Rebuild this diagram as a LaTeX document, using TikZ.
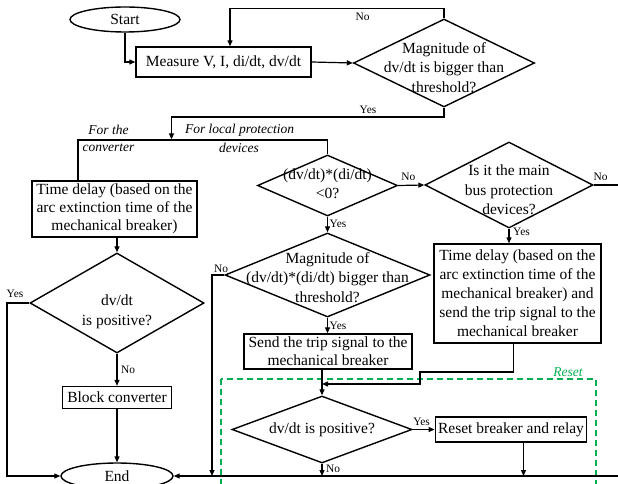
\documentclass[tikz,border=0pt]{standalone}
\usepackage{fontspec}
\setmainfont{Liberation Serif}
\usetikzlibrary{shapes.geometric,arrows.meta}
\definecolor{rgreen}{RGB}{0,176,80}
\begin{document}
\begin{tikzpicture}[x=1pt,y=-1pt,
  line width=1.2pt,
  arr/.style={-{Triangle[length=6pt,width=5pt]}},
  box/.style={draw, rectangle, line width=1.4pt, inner sep=0pt, align=center, font=\fontsize{15.5}{19}\selectfont},
  dia/.style={draw, diamond, inner sep=0pt, line width=1.4pt},
  ell/.style={draw, ellipse, inner sep=0pt, line width=1.4pt, font=\fontsize{15.5}{19}\selectfont},
  txt/.style={align=center, inner sep=0pt, font=\fontsize{15.5}{19.5}\selectfont},
  lab/.style={inner sep=0pt, font=\fontsize{11.4}{13}\selectfont},
  itl/.style={inner sep=0pt, font=\fontsize{13.5}{15}\selectfont\itshape},
]
\useasboundingbox (0,0) rectangle (618,484);

% reset region
\draw[rgreen, dash pattern=on 6pt off 4pt, line width=1.1pt] (221,379) rectangle (596,500);
\node[itl, text=rgreen] (resetlab) at (568,372) {Reset};

% top
\node[ell, minimum width=110pt, minimum height=25pt] (start) at (125,19.5) {Start};
\node[box, minimum width=175pt, minimum height=30pt] (meas) at (223.5,62) {Measure V, I, di/dt, dv/dt};
\node[dia, minimum width=181pt, minimum height=88pt] (d1) at (444,63) {};
\node[txt] (d1t) at (444,67.5) {Magnitude of\\dv/dt is bigger than\\threshold?};

\draw[arr] (start.south) |- (meas.west);
\draw[arr] (meas.east) -- (d1.west);
\coordinate (ntop) at (444,8.5);
\draw[arr] (d1.north) -- (ntop) -| ([xshift=6.5pt]meas.north);
\node[lab] (no1) at (362.6,17) {No};

\coordinate (yk) at (171.5,117);
\coordinate (ysp) at (171.5,139.4);
\draw[arr] (d1.south) |- (yk) -- (ysp);
\node[lab] (yes1) at (368,110) {Yes};

% left branch
\node[box, minimum width=165pt, minimum height=56pt, font=\fontsize{15.5}{18}\selectfont] (td1) at (114.5,209)
  {Time delay (based on the\\arc extinction time of the\\mechanical breaker)};
\coordinate (bl) at (78,140);
\coordinate (br) at (327.5,140);
\node[dia, minimum width=140pt, minimum height=61pt] (d2) at (327.5,185.5) {};
\node[txt] (d2t) at (327.5,183.5) {(dv/dt)*(di/dt)\\<0?};
\draw ([xshift=-36.5pt]td1.north) -- (bl) -- (br) -- (d2.north);

\node[itl] (l1a) at (108.5,130) {For the};
\node[itl] (l1b) at (108.5,147.5) {converter};
\node[itl] (l2a) at (239.5,130) {For local protection};
\node[itl] (l2b) at (239,147.5) {devices};

\node[dia, minimum width=174pt, minimum height=100pt] (d3) at (117,303) {};
\node[txt] (d3t) at (117,312) {dv/dt\\is positive?};
\draw[arr] (td1.south -| d3.north) -- (d3.north);

\node[box, minimum width=109pt, minimum height=22pt] (blk) at (117,397.5) {Block converter};
\draw[arr] (d3.south) -- (blk.north);
\node[lab] (no3) at (128,370) {No};

\node[ell, minimum width=112pt, minimum height=26pt] (end) at (117,476) {End};
\draw[arr] (blk.south) -- (end.north);

\coordinate (yl) at (7,303);
\draw[arr] (d3.west) -- (yl) |- (end.west);
\node[lab] (yes3) at (15,294) {Yes};

% right branch
\node[dia, minimum width=168pt, minimum height=86pt] (dm) at (509,185) {};
\node[txt] (dmt) at (509,190) {Is it the main\\bus protection\\devices?};
\draw[arr] (d2.east) -- (dm.west);
\node[lab] (no2) at (408.3,177) {No};

\coordinate (rt) at (623,185);
\coordinate (rb) at (623,476);
\draw[arr] (dm.east) -- (rt) -- (rb) -- (end.east);
\node[lab] (nom) at (600.5,177) {No};

\node[box, minimum width=167pt, minimum height=99pt] (td2) at (517.5,293.5)
  {Time delay (based on the\\arc extinction time of the\\mechanical breaker) and\\send the trip signal to the\\mechanical breaker};
\draw[arr] (dm.south) -- (dm.south |- td2.north);
\node[lab] (yesm) at (521.5,231.7) {Yes};

\node[dia, minimum width=205pt, minimum height=84pt] (d4) at (327.5,275) {};
\node[txt] (d4t) at (327.5,277.5) {Magnitude of\\(dv/dt)*(di/dt) bigger than\\threshold?};
\draw[arr] (d2.south) -- (d4.north);
\node[lab] (yes2) at (338,224) {Yes};

\coordinate (l4) at (212,275);
\coordinate (l4b) at (212,476);
\draw[arr] (d4.west) -- (l4) -- (l4b);
\node[lab] (no4) at (221,269) {No};

\node[box, minimum width=168pt, minimum height=35pt, font=\fontsize{15.5}{18}\selectfont] (send) at (328,351.5)
  {Send the trip signal to the\\mechanical breaker};
\draw[arr] (d4.south) -- (d4.south |- send.north);
\node[lab] (yes4) at (338,325.7) {Yes};

\node[dia, minimum width=180pt, minimum height=67pt] (d5) at (322,429.5) {};
\node[txt] (d5t) at (322,429.5) {dv/dt is positive?};
\draw[arr] (send.south -| d5.north) -- (d5.north);

\coordinate (c1) at (513.5,372);
\coordinate (c2) at (420,372);
\coordinate (c3) at (420,384);
\coordinate (c4) at (322,384);
\draw[arr] (td2.south -| c1) -- (c1) -- (c2) -- (c3) -- (c4);

\node[box, minimum width=151.5pt, minimum height=25pt] (reset) at (511,429.5) {Reset breaker and relay};
\draw[arr] (d5.east) -- (reset.west);
\node[lab] (yes5) at (421.6,421.7) {Yes};

\coordinate (rs) at (523.5,476);
\draw[arr] ([xshift=12.5pt]reset.south) -- (rs);
\coordinate (n5) at (322,476);
\draw[arr] (d5.south) -- (n5);
\node[lab] (no5) at (333,468.5) {No};
\end{tikzpicture}
\end{document}
